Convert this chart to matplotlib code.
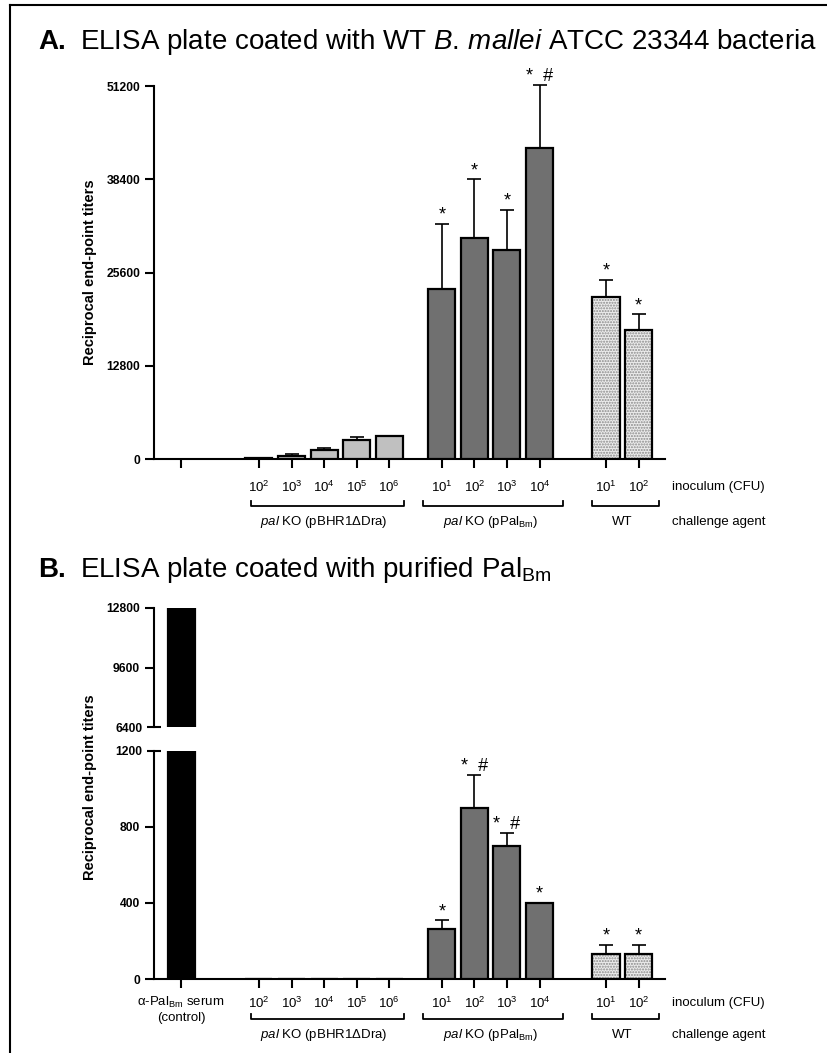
import numpy as np
import matplotlib
matplotlib.use("Agg")
import matplotlib.pyplot as plt
from matplotlib.transforms import blended_transform_factory
from matplotlib.lines import Line2D

plt.rcParams["font.family"] = ["Liberation Sans", "DejaVu Sans"]
plt.rcParams["mathtext.fontset"] = "custom"
plt.rcParams["mathtext.rm"] = "Liberation Sans"
plt.rcParams["mathtext.it"] = "Liberation Sans:italic"
plt.rcParams["mathtext.bf"] = "Liberation Sans:bold"

# ---- data -------------------------------------------------------------
INOC_PBHR = ["10$^2$", "10$^3$", "10$^4$", "10$^5$", "10$^6$"]
INOC_PPAL = ["10$^1$", "10$^2$", "10$^3$", "10$^4$"]
INOC_WT = ["10$^1$", "10$^2$"]
GROUP_NAMES = ["$\\mathit{pal}$ KO (pBHR1\u0394Dra)",
               "$\\mathit{pal}$ KO (pPal$_{\\mathrm{Bm}}$)",
               "WT"]
CONTROL_LABEL = "\u03b1-Pal$_{\\mathrm{Bm}}$ serum\n(control)"

# panel A: whole-cell ELISA
A_CONTROL = [0]
A_PBHR = [100, 400, 1200, 2600, 3200]
A_PBHR_ERR = [0, 300, 300, 400, 0]
A_PPAL = [23300, 30300, 28700, 42700]
A_PPAL_ERR = [9000, 8100, 5500, 8700]
A_WT = [22200, 17700]
A_WT_ERR = [2400, 2200]
A_PPAL_SIG = ["*", "*", "*", "*  #"]
A_WT_SIG = ["*", "*"]

# panel B: purified Pal ELISA
B_CONTROL = [12800]
B_PBHR = [0, 0, 0, 0, 0]
B_PBHR_ERR = [0, 0, 0, 0, 0]
B_PPAL = [265, 900, 697, 400]
B_PPAL_ERR = [43, 170, 72, 0]
B_WT = [130, 130]
B_WT_ERR = [49, 49]
B_PPAL_SIG = ["*", "*  #", "*  #", "*"]
B_WT_SIG = ["*", "*"]

A_YTICKS = [0, 12800, 25600, 38400, 51200]
B_YTICKS_LOW = [0, 400, 800, 1200]
B_YTICKS_HIGH = [6400, 9600, 12800]

# ---- layout -----------------------------------------------------------
W, H = 827, 1053
GROUP_START = [0, 2.39, 8.0, 13.04]          # control, pBHR, pPal, WT
BRACKET_PAD = [(0.25, 0.44), (0.57, 0.71), (0.44, 0.62)]
XLIM = (-0.83, 14.85)
BAR_W = 0.83
LIGHT = "#c0c0c0"
DARK = "#707070"

pos_ctrl = GROUP_START[0] + np.arange(len(A_CONTROL))
pos_pbhr = GROUP_START[1] + np.arange(len(INOC_PBHR))
pos_ppal = GROUP_START[2] + np.arange(len(INOC_PPAL))
pos_wt = GROUP_START[3] + np.arange(len(INOC_WT))


def fy(py):
    return 1 - py / H


def fax(left, top, right, bottom):
    return [left / W, 1 - bottom / H, (right - left) / W, (bottom - top) / H]


fig = plt.figure(figsize=(W / 100, H / 100), dpi=100)

# frame
fig.add_artist(Line2D([10 / W, 10 / W], [0, fy(5)], color="black", lw=1.5))
fig.add_artist(Line2D([10 / W, 1], [fy(5), fy(5)], color="black", lw=1.5))


def style_axis(ax, bottom=True):
    for s in ["top", "right"]:
        ax.spines[s].set_visible(False)
    ax.spines["left"].set_linewidth(1.5)
    ax.spines["bottom"].set_linewidth(1.5)
    if not bottom:
        ax.spines["bottom"].set_visible(False)
        ax.tick_params(axis="x", bottom=False, labelbottom=False)
    ax.tick_params(axis="both", which="both", width=1.5, length=6.5,
                   labelsize=8.7)
    ax.tick_params(axis="x", labelbottom=False)
    ax.set_xlim(*XLIM)
    for lab in ax.get_yticklabels():
        lab.set_fontweight("bold")


def draw_bars(ax, pos, vals, errs, color, dotted=False):
    if dotted:
        ax.bar(pos, vals, BAR_W, color="#ececec", edgecolor="#8a8a8a",
               hatch="......", lw=0, zorder=2)
        ax.bar(pos, vals, BAR_W, fill=False, edgecolor="black", lw=1.6, zorder=3)
    else:
        ax.bar(pos, vals, BAR_W, color=color, edgecolor="black", lw=1.6, zorder=3)
    errs = np.asarray(errs)
    keep = errs > 0
    if keep.any():
        p = np.asarray(pos)[keep]
        v = np.asarray(vals)[keep]
        e = errs[keep]
        ax.errorbar(p, v, yerr=[np.zeros_like(e), e], fmt="none",
                    ecolor="black", elinewidth=1.2, capsize=5, capthick=1.2,
                    zorder=1, clip_on=False)


def draw_sig(ax, pos, vals, errs, marks):
    for x, v, e, m in zip(pos, vals, errs, marks):
        ax.annotate(m, (x, v + e), xytext=(0, 0), textcoords="offset points",
                    ha="center", va="bottom", fontsize=13, annotation_clip=False)


def draw_xlabels(ax, ylab, ybr, ygrp, control=None):
    tr = blended_transform_factory(ax.transData, fig.transFigure)
    ticks = list(pos_ctrl) + list(pos_pbhr) + list(pos_ppal) + list(pos_wt)
    ax.set_xticks(ticks)
    for p, lab in zip(list(pos_pbhr) + list(pos_ppal) + list(pos_wt),
                      INOC_PBHR + INOC_PPAL + INOC_WT):
        ax.text(p, fy(ylab), lab, transform=tr, ha="center", va="center",
                fontsize=9.5)
    if control is not None:
        ax.text(pos_ctrl[0], fy(ylab - 8), control, transform=tr, ha="center",
                va="top", fontsize=9.5, linespacing=1.25)
    for grp, name, (lp, rp) in zip([pos_pbhr, pos_ppal, pos_wt], GROUP_NAMES,
                                   BRACKET_PAD):
        x0, x1 = grp[0] - lp, grp[-1] + rp
        ax.plot([x0, x0, x1, x1], [fy(ybr - 5), fy(ybr), fy(ybr), fy(ybr - 5)],
                transform=tr, color="black", lw=1.3, clip_on=False)
        ax.text((grp[0] + grp[-1]) / 2, fy(ygrp), name, transform=tr,
                ha="center", va="center", fontsize=9.5)
    fig.text(672 / W, fy(ylab), "inoculum (CFU)", ha="left", va="center",
             fontsize=9.5)
    fig.text(672 / W, fy(ygrp), "challenge agent", ha="left", va="center",
             fontsize=9.5)


# ---- panel A ----------------------------------------------------------
fig.text(38 / W, fy(42), "A.", fontsize=20, fontweight="bold", va="center")
fig.text(80 / W, fy(42),
         "ELISA plate coated with WT $\\mathit{B.\\,mallei}$ ATCC 23344 bacteria",
         fontsize=20, va="center")

axA = fig.add_axes(fax(154, 86, 665, 459))
draw_bars(axA, pos_pbhr, A_PBHR, A_PBHR_ERR, LIGHT)
draw_bars(axA, pos_ppal, A_PPAL, A_PPAL_ERR, DARK)
draw_bars(axA, pos_wt, A_WT, A_WT_ERR, None, dotted=True)
axA.set_ylim(0, A_YTICKS[-1])
axA.set_yticks(A_YTICKS)
style_axis(axA)
draw_sig(axA, pos_ppal, A_PPAL, A_PPAL_ERR, A_PPAL_SIG)
draw_sig(axA, pos_wt, A_WT, A_WT_ERR, A_WT_SIG)
draw_xlabels(axA, 487, 506, 522)
fig.text(90 / W, fy(272), "Reciprocal end-point titers", rotation=90,
         ha="center", va="center", fontsize=10.5, fontweight="bold")

# ---- panel B ----------------------------------------------------------
fig.text(38 / W, fy(570), "B.", fontsize=20, fontweight="bold", va="center")
fig.text(80 / W, fy(570), "ELISA plate coated with purified Pal$_{\\mathrm{Bm}}$",
         fontsize=20, va="center")

axBh = fig.add_axes(fax(154, 607.7, 665, 727.3))
axBl = fig.add_axes(fax(154, 750.7, 665, 979))
for ax in (axBh, axBl):
    ax.bar(pos_ctrl, B_CONTROL, BAR_W, color="black", edgecolor="black",
           lw=1.6, zorder=3)
axBh.set_ylim(B_YTICKS_HIGH[0], B_YTICKS_HIGH[-1])
axBh.set_yticks(B_YTICKS_HIGH[1:])
axBh.set_yticks(B_YTICKS_HIGH[:1], minor=True)
axBh.set_yticklabels([str(v) for v in B_YTICKS_HIGH[:1]], minor=True)
style_axis(axBh, bottom=False)
axBh.tick_params(axis="y", which="minor", direction="inout", length=10)
for lab in axBh.get_yticklabels(minor=True):
    lab.set_fontweight("bold")

draw_bars(axBl, pos_pbhr, B_PBHR, B_PBHR_ERR, LIGHT)
draw_bars(axBl, pos_ppal, B_PPAL, B_PPAL_ERR, DARK)
draw_bars(axBl, pos_wt, B_WT, B_WT_ERR, None, dotted=True)
axBl.set_ylim(B_YTICKS_LOW[0], B_YTICKS_LOW[-1])
axBl.set_yticks(B_YTICKS_LOW[:-1])
axBl.set_yticks(B_YTICKS_LOW[-1:], minor=True)
axBl.set_yticklabels([str(v) for v in B_YTICKS_LOW[-1:]], minor=True)
style_axis(axBl)
axBl.tick_params(axis="y", which="minor", direction="inout", length=10)
for lab in axBl.get_yticklabels(minor=True):
    lab.set_fontweight("bold")
axBl.tick_params(axis="x", which="minor", bottom=False)
draw_sig(axBl, pos_ppal, B_PPAL, B_PPAL_ERR, B_PPAL_SIG)
draw_sig(axBl, pos_wt, B_WT, B_WT_ERR, B_WT_SIG)
draw_xlabels(axBl, 1003, 1019, 1035, control=CONTROL_LABEL)
fig.text(90 / W, fy(787), "Reciprocal end-point titers", rotation=90,
         ha="center", va="center", fontsize=10.5, fontweight="bold")

fig.savefig("out.png", dpi=100)
